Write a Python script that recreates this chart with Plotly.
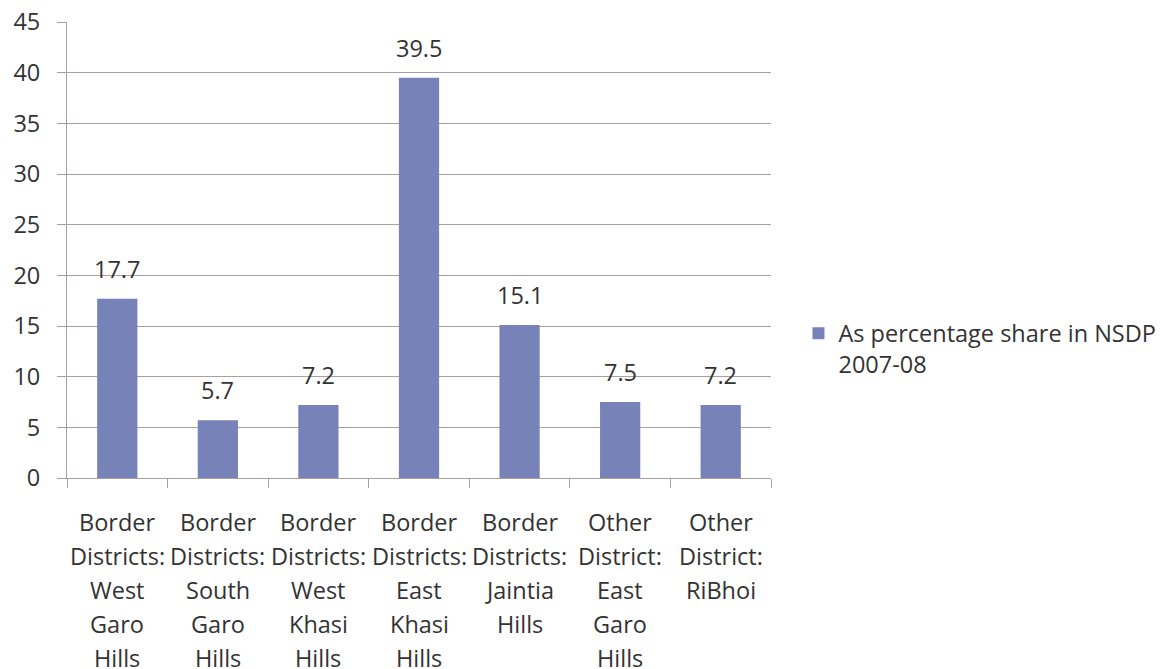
import plotly.graph_objects as go

categories = [
    "Border Districts: West Garo Hills",
    "Border Districts: South Garo Hills",
    "Border Districts: West Khasi Hills",
    "Border Districts: East Khasi Hills",
    "Border Districts: Jaintia Hills",
    "Other District: East Garo Hills",
    "Other District: RiBhoi",
]
label_lines = [
    ["Border", "Districts:", "West", "Garo", "Hills"],
    ["Border", "Districts:", "South", "Garo", "Hills"],
    ["Border", "Districts:", "West", "Khasi", "Hills"],
    ["Border", "Districts:", "East", "Khasi", "Hills"],
    ["Border", "Districts:", "Jaintia", "Hills"],
    ["Other", "District:", "East", "Garo", "Hills"],
    ["Other", "District:", "RiBhoi"],
]
values = [17.7, 5.7, 7.2, 39.5, 15.1, 7.5, 7.2]
value_labels = ["17.7", "5.7", "7.2", "39.5", "15.1", "7.5", "7.2"]
series_name = "As percentage share in NSDP<br>2007-08"
y_ticks = [0, 5, 10, 15, 20, 25, 30, 35, 40, 45]

FONT = "Open Sans"
FS = 23.5
TXT = "#333333"
GRID = "#A89F9F"
BAR = "#7782B9"

fig = go.Figure()
fig.add_trace(go.Bar(
    x=categories, y=values, name=series_name,
    marker=dict(color=BAR, line=dict(width=0)),
    width=0.4, showlegend=True,
))

annotations = []
for c, v, t in zip(categories, values, value_labels):
    annotations.append(dict(x=c, y=v, xref="x", yref="y", text=t, showarrow=False,
                            yshift=30, font=dict(family=FONT, size=FS, color=TXT)))
for c, lines in zip(categories, label_lines):
    for i, ln in enumerate(lines):
        annotations.append(dict(x=c, y=0, xref="x", yref="y", text=ln, showarrow=False,
                                yshift=-(44 + 34 * i), font=dict(family=FONT, size=FS, color=TXT)))

fig.update_layout(
    width=1170, height=669,
    margin=dict(l=67, r=399, t=22, b=191, autoexpand=False),
    paper_bgcolor="white", plot_bgcolor="white",
    font=dict(family=FONT, size=FS, color=TXT),
    bargap=0.6,
    xaxis=dict(showticklabels=False, ticks="outside", ticklen=9, tickcolor=GRID,
               tickson="boundaries", showline=True, linecolor=GRID, linewidth=1,
               showgrid=False, range=[-0.5, 6.5], automargin=False),
    yaxis=dict(range=[0, 45], tickvals=y_ticks, ticks="outside", ticklen=9, tickcolor=GRID,
               showline=True, linecolor=GRID, gridcolor=GRID, gridwidth=1,
               ticklabelstandoff=12, automargin=False,
               tickfont=dict(family=FONT, size=FS, color=TXT), zeroline=False),
    legend=dict(x=1.039, y=0.283, xanchor="left", yanchor="middle", valign="top",
                font=dict(family=FONT, size=FS, color=TXT), itemwidth=30),
    annotations=annotations,
)

fig.write_html("out.html")
